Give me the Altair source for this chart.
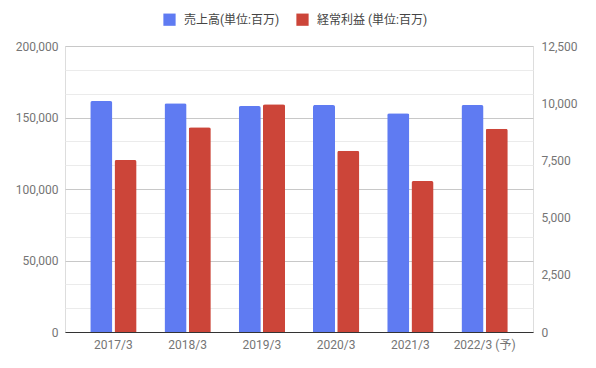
import altair as alt
import pandas as pd

years = ["2017/3", "2018/3", "2019/3", "2020/3", "2021/3", "2022/3 (予)"]
sales = [161500, 160000, 158000, 158700, 153000, 158700]
profit = [7520, 8950, 9950, 7920, 6600, 8880]
series = ["売上高(単位:百万)", "経常利益 (単位:百万)"]
colors = ["#5f7bf2", "#cc4539"]

df_sales = pd.DataFrame({"year": years, "value": sales, "series": series[0]})
df_profit = pd.DataFrame({"year": years, "value": profit, "series": series[1]})

FONT = "Roboto, 'Noto Sans CJK JP', sans-serif"
left_ticks = [i * 200000 / 12 for i in range(13)]

x_enc = alt.X("year:N", sort=years, title=None,
              scale=alt.Scale(paddingInner=0.376, paddingOuter=0.34),
              axis=alt.Axis(labelAngle=0, labelColor="#757575", labelFontSize=12,
                            labelFont=FONT, ticks=False, domainColor="#333333",
                            labelPadding=7, grid=False, zindex=1))
xo_enc = alt.XOffset("series:N", sort=series,
                     scale=alt.Scale(domain=series, paddingInner=0.09, paddingOuter=0))
color_enc = alt.Color("series:N", sort=series,
                      scale=alt.Scale(domain=series, range=colors),
                      legend=alt.Legend(title=None, orient="none", direction="horizontal",
                                        legendX=98, legendY=-33, symbolType="square",
                                        symbolSize=150, symbolStrokeWidth=0,
                                        labelFontSize=12, labelFont=FONT,
                                        labelColor="#444444", columnPadding=16,
                                        labelOffset=8))

left = alt.Chart(df_sales).mark_bar(cornerRadiusTopLeft=2, cornerRadiusTopRight=2).encode(
    x=x_enc, xOffset=xo_enc, color=color_enc,
    y=alt.Y("value:Q", title=None,
            scale=alt.Scale(domain=[0, 200000], nice=False),
            axis=alt.Axis(values=left_ticks, ticks=False, domain=False,
                          labelExpr="round(datum.value) % 50000 == 0 ? format(datum.value, ',') : ''",
                          labelColor="#757575", labelFontSize=12, labelFont=FONT,
                          labelPadding=7,
                          gridColor={"condition": {"test": "round(datum.value) % 50000 == 0", "value": "#c8c8c8"}, "value": "#ebebeb"})),
)

right = alt.Chart(df_profit).mark_bar(cornerRadiusTopLeft=2, cornerRadiusTopRight=2).encode(
    x=x_enc, xOffset=xo_enc, color=color_enc,
    y=alt.Y("value:Q", title=None,
            scale=alt.Scale(domain=[0, 12500], nice=False),
            axis=alt.Axis(orient="right", values=[0, 2500, 5000, 7500, 10000, 12500],
                          ticks=False, domain=False, grid=False,
                          labelExpr="format(datum.value, ',')",
                          labelColor="#757575", labelFontSize=12, labelFont=FONT,
                          labelPadding=8)),
)

chart = alt.layer(left, right).resolve_scale(y="independent").properties(
    width=468, height=286,
    autosize=alt.AutoSizeParams(type="none"),
    padding={"left": 57, "top": 38, "right": 55, "bottom": 28},
).configure_view(stroke=None).configure(font=FONT)

chart.save("out.html", embed_options={"renderer": "svg", "actions": False})
